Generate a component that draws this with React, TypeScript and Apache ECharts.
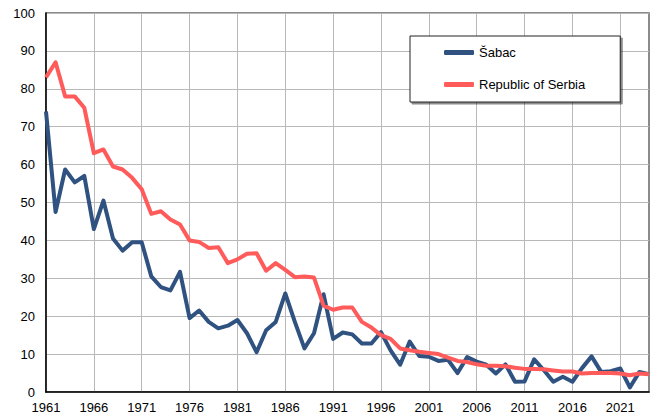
import React, { useEffect, useRef } from "react";
import * as echarts from "echarts";

const years: string[] = [];
for (let y = 1961; y <= 2024; y++) years.push(String(y));

const sabac = [
  74, 47.5, 58.7, 55.3, 57, 43, 50.5, 40.5, 37.3, 39.5,
  39.5, 30.5, 27.7, 26.8, 31.7, 19.5, 21.5, 18.5, 16.8, 17.5,
  19, 15.5, 10.5, 16.3, 18.5, 26, 18.5, 11.5, 15.5, 25.8,
  14, 15.7, 15.2, 12.8, 12.8, 15.8, 11, 7.2, 13.3, 9.5,
  9.3, 8.2, 8.5, 5, 9.2, 8.0, 7.2, 4.9, 7.3, 2.7,
  2.8, 8.6, 5.8, 2.7, 4.0, 2.7, 6.3, 9.4, 5.3, 5.5,
  6.2, 1.2, 5.3, 4.7,
];

const serbia = [
  83, 87, 78, 78, 75, 63, 64, 59.5, 58.7, 56.5,
  53.5, 47, 47.7, 45.5, 44.2, 40, 39.6, 38, 38.2, 34,
  35, 36.5, 36.6, 32, 34, 32.2, 30.3, 30.5, 30.2, 22.8,
  21.7, 22.3, 22.3, 18.5, 17, 15, 14, 11.5, 11, 10.6,
  10.3, 10, 9.1, 8.2, 7.9, 7.3, 6.9, 6.9, 6.8, 6.4,
  6.1, 6.1, 6.0, 5.7, 5.4, 5.4, 4.9, 5.0, 5.0, 5.0,
  4.9, 4.4, 4.9, 4.7,
];

const yTicks = { min: 0, max: 100, interval: 10 };

export default function App() {
  const ref = useRef<HTMLDivElement>(null);
  useEffect(() => {
    if (!ref.current) return;
    const chart = echarts.init(ref.current, null, { renderer: "svg" });
    chart.setOption({
      animation: false,
      backgroundColor: "#ffffff",
      textStyle: { fontFamily: "Liberation Sans, Arial, sans-serif" },
      grid: {
        left: 46,
        right: 4,
        top: 13,
        bottom: 28,
        show: true,
        borderColor: "#666666",
        borderWidth: 1.5,
      },
      legend: {
        left: 410,
        top: 36,
        orient: "vertical",
        backgroundColor: "#ffffff",
        borderColor: "#222222",
        borderWidth: 1,
        shadowColor: "rgba(0,0,0,0.45)",
        shadowOffsetX: 2,
        shadowOffsetY: 2,
        shadowBlur: 0,
        padding: [10, 35, 11, 34],
        itemGap: 19,
        itemWidth: 30,
        itemHeight: 5,
        icon: "roundRect",
        textStyle: {
          fontSize: 13,
          color: "#000000",
          fontFamily: "Liberation Sans, Arial, sans-serif",
        },
        data: ["Šabac", "Republic of Serbia"],
      },
      xAxis: {
        type: "category",
        data: years,
        boundaryGap: false,
        axisLine: { lineStyle: { color: "#000000", width: 1.5 } },
        axisTick: { show: false },
        axisLabel: {
          interval: 4,
          color: "#000000",
          fontSize: 13,
          margin: 9,
        },
        splitLine: {
          show: true,
          interval: 4,
          lineStyle: { color: "#b8b8b8", width: 1 },
        },
      },
      yAxis: {
        type: "value",
        min: yTicks.min,
        max: yTicks.max,
        interval: yTicks.interval,
        axisLine: { show: true, lineStyle: { color: "#000000", width: 1.5 } },
        axisTick: { show: false },
        axisLabel: { color: "#000000", fontSize: 13, margin: 11 },
        splitLine: { show: true, lineStyle: { color: "#b8b8b8", width: 1 } },
      },
      series: [
        {
          name: "Šabac",
          type: "line",
          data: sabac,
          symbol: "none",
          lineStyle: { color: "#2F5281", width: 4, join: "round" },
          itemStyle: { color: "#2F5281" },
          z: 3,
        },
        {
          name: "Republic of Serbia",
          type: "line",
          data: serbia,
          symbol: "none",
          lineStyle: { color: "#FF5B5B", width: 4, join: "round" },
          itemStyle: { color: "#FF5B5B" },
          z: 4,
        },
      ],
    });
    return () => chart.dispose();
  }, []);
  return (
    <div
      ref={ref}
      style={{ width: 653, height: 420, position: "absolute", left: 0, top: 0 }}
    />
  );
}
